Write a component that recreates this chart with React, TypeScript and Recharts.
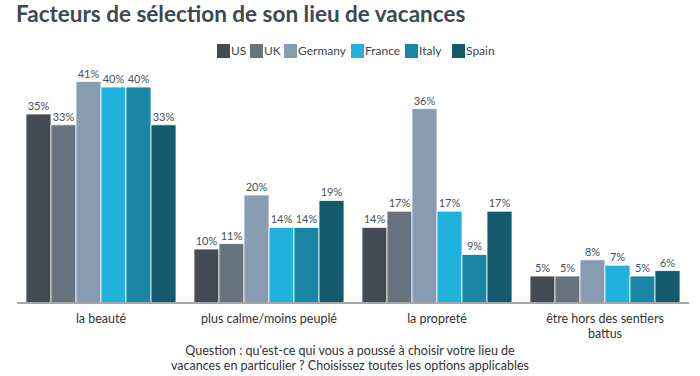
import React from "react";
import { BarChart, Bar, XAxis, YAxis, LabelList } from "recharts";

const categories = ["la beauté", "plus calme/moins peuplé", "la propreté", "être hors des sentiers battus"];
const seriesNames = ["US", "UK", "Germany", "France", "Italy", "Spain"];
const us = [35, 10, 14, 5];
const uk = [33, 11, 17, 5];
const germany = [41, 20, 36, 8];
const france = [40, 14, 17, 7];
const italy = [40, 14, 9, 5];
const spain = [33, 19, 17, 6];
const colors = ["#434c55", "#67737f", "#889db2", "#20b1dc", "#1a86a5", "#135a6d"];

const seriesValues = [us, uk, germany, france, italy, spain];
const data = categories.map((c, i) => {
  const row: any = { cat: c };
  seriesNames.forEach((s, j) => (row[s] = seriesValues[j][i]));
  return row;
});

const FONT = "Lato, 'Open Sans', sans-serif";

const Tick = (props: any) => {
  const { x, y, payload } = props;
  const label: string = payload.value;
  let lines = [label];
  if (label.length > 24) {
    const words = label.split(" ");
    let a = "";
    let i = 0;
    while (i < words.length && (a + " " + words[i]).trim().length <= 24) {
      a = (a + " " + words[i]).trim();
      i++;
    }
    lines = [a, words.slice(i).join(" ")];
  }
  return (
    <g>
      {lines.map((l, k) => (
        <text key={k} x={x} y={y + 12 + k * 14.5} textAnchor="middle" fontSize={12.5} fill="#333" fontFamily={FONT}>
          {l}
        </text>
      ))}
    </g>
  );
};

const legendX = [217, 250, 284, 351, 405, 452];

export default function App() {
  return (
    <div style={{ position: "absolute", left: 0, top: 0, width: 700, height: 376, background: "#fff" }}>
      <div style={{ position: "absolute", left: 16, top: 0, fontFamily: FONT, fontWeight: 700, fontSize: 22.5, color: "#404850", whiteSpace: "nowrap" }}>
        Facteurs de sélection de son lieu de vacances
      </div>
      {seriesNames.map((s, i) => (
        <div
          key={s}
          style={{ position: "absolute", left: legendX[i], top: 43, display: "flex", alignItems: "center", fontFamily: FONT, fontSize: 12, color: "#444" }}
        >
          <span style={{ width: 13, height: 14, background: colors[i], display: "inline-block", marginRight: 1 }} />
          <span>{s}</span>
        </div>
      ))}
      <BarChart
        width={700}
        height={376}
        data={data}
        margin={{ top: 60, right: 11, bottom: 43, left: 17 }}
        barCategoryGap={9}
        barGap={0}
      >
        <XAxis
          dataKey="cat"
          height={30}
          tick={<Tick />}
          tickLine={false}
          axisLine={{ stroke: "#a3a7ab", strokeWidth: 2 }}
          interval={0}
        />
        <YAxis hide domain={[0, 45]} />
        {seriesNames.map((s, i) => (
          <Bar key={s} dataKey={s} fill={colors[i]} stroke="#ffffff" strokeWidth={0.8} isAnimationActive={false}>
            <LabelList
              dataKey={s}
              position="top"
              offset={4}
              formatter={(v: any) => `${v}%`}
              style={{ fontSize: 11, fill: "#4a5058", fontFamily: FONT }}
            />
          </Bar>
        ))}
      </BarChart>
      <div
        style={{
          position: "absolute",
          left: 0,
          width: 700,
          top: 343,
          textAlign: "center",
          fontFamily: FONT,
          fontSize: 12.5,
          lineHeight: "15px",
          color: "#333",
        }}
      >
        Question : qu'est-ce qui vous a poussé à choisir votre lieu de
        <br />
        vacances en particulier ? Choisissez toutes les options applicables
      </div>
    </div>
  );
}
